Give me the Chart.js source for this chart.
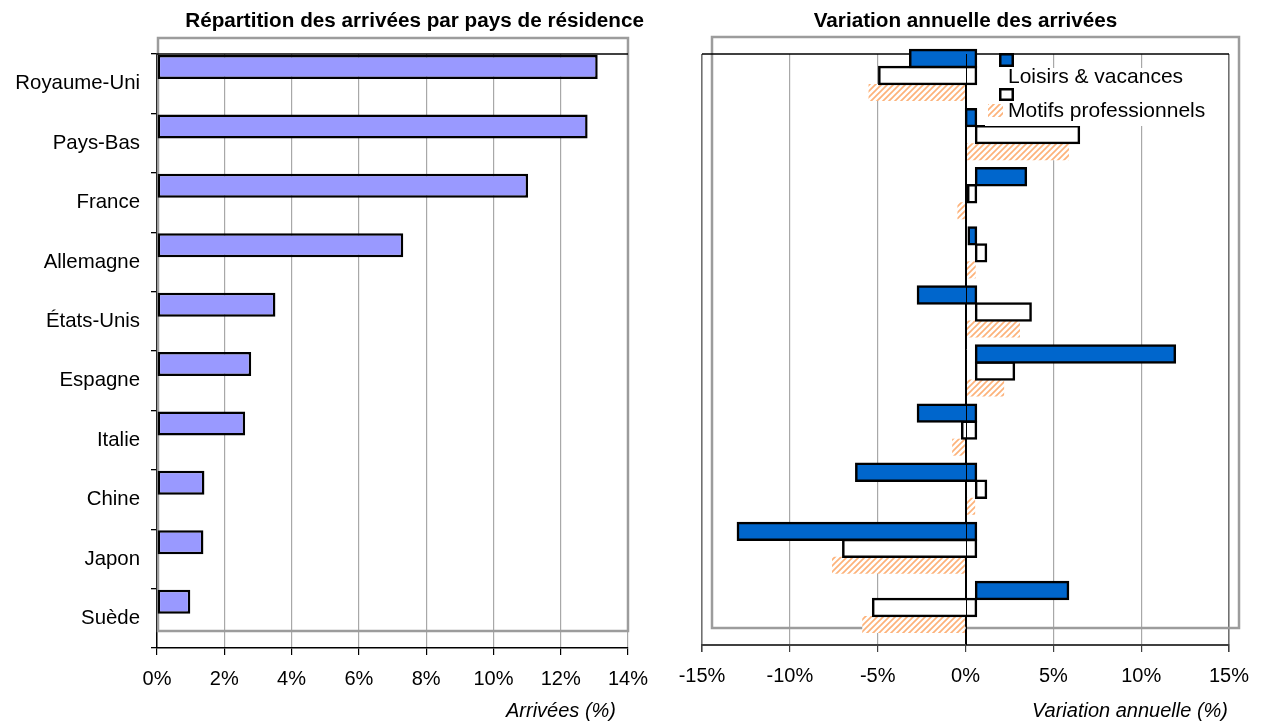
<!DOCTYPE html>
<html lang="fr">
<head>
<meta charset="utf-8">
<title>Arrivées par pays de résidence</title>
<script src="https://cdn.jsdelivr.net/npm/chart.js@4"></script>
<style>
  html, body { margin: 0; padding: 0; background: #fff; }
  #page { position: relative; width: 1262px; height: 724px; overflow: hidden;
          font-family: 'Liberation Sans', Arial, sans-serif; color: #000; }
  .panel { position: absolute; top: 0; height: 724px; }
  #left { left: 0; width: 660px; }
  #right { left: 660px; width: 602px; }
  .ttl { position: absolute; top: 8px; font-weight: bold; font-size: 20.7px; line-height: 24px; white-space: nowrap; }
  .axt { position: absolute; top: 698px; font-style: italic; font-size: 20px; line-height: 24px;
         white-space: nowrap; text-align: right; }
</style>
</head>
<body>
<div id="page">
  <div class="panel" id="left"><canvas id="shareChart"></canvas></div>
  <div class="panel" id="right"><canvas id="changeChart"></canvas></div>
  <div class="ttl" style="left:0;width:644px;text-align:right">Répartition des arrivées par pays de résidence</div>
  <div class="ttl" style="left:702px;width:527px;text-align:center">Variation annuelle des arrivées</div>
  <div class="axt" style="left:0;width:616px">Arrivées (%)</div>
  <div class="axt" style="left:660px;width:568px">Variation annuelle (%)</div>
</div>
<script>
// pays de résidence, du premier au dernier
const countries = ['Royaume-Uni', 'Pays-Bas', 'France', 'Allemagne', 'États-Unis',
                   'Espagne', 'Italie', 'Chine', 'Japon', 'Suède'];

// part des arrivées (%)
const shareValues = [13.1, 12.8, 11.03, 7.32, 3.52, 2.8, 2.62, 1.41, 1.38, 0.99];

// variation annuelle (%)
const totalChange = [-3.75, -0.57, 2.84, -0.42, -3.31, 11.32, -3.31, -6.82, -13.56, 5.24];
const leisureChange = [-5.51, 5.86, -0.45, 0.57, 3.11, 2.16, -0.79, 0.57, -7.56, -5.86];
const businessChange = [-5.52, 5.89, -0.46, 0.58, 3.1, 2.2, -0.76, 0.55, -7.6, -5.88];

const seriesLabels = ['Ensemble', 'Loisirs & vacances', 'Motifs professionnels'];

const shareTicks = [0, 2, 4, 6, 8, 10, 12, 14];
const changeTicks = [-15, -10, -5, 0, 5, 10, 15];

Chart.defaults.font.family = "'Liberation Sans', Arial, sans-serif";
Chart.defaults.font.size = 20;
Chart.defaults.color = '#000';

const pct = (v) => v + '%';
const asPoints = (vals) => vals.map((v, i) => ({ x: v, y: i }));

function stripes() {
  const c = document.createElement('canvas');
  c.width = c.height = 6;
  const g = c.getContext('2d');
  g.fillStyle = '#fff';
  g.fillRect(0, 0, 6, 6);
  g.strokeStyle = '#fdb27a';
  g.lineWidth = 1.7;
  g.beginPath();
  g.moveTo(0, 6); g.lineTo(6, 0);
  g.moveTo(-1, 1); g.lineTo(1, -1);
  g.moveTo(5, 7); g.lineTo(7, 5);
  g.stroke();
  return g.createPattern(c, 'repeat');
}
const hatch = stripes();

// cadre gris décalé + ligne noire en haut de la zone de tracé
const panelFrame = {
  id: 'panelFrame',
  beforeDatasetsDraw(chart, args, opts) {
    const { ctx, chartArea: a } = chart;
    ctx.save();
    ctx.strokeStyle = '#9c9c9c';
    ctx.lineWidth = 2.5;
    ctx.strokeRect(a.left + opts.dx, a.top + opts.dy, a.width + opts.dw, a.height + opts.dh);
    ctx.strokeStyle = '#000';
    ctx.lineWidth = 1.3;
    ctx.beginPath();
    ctx.moveTo(a.left, a.top);
    ctx.lineTo(a.right, a.top);
    ctx.stroke();
    ctx.restore();
  },
  afterDatasetsDraw(chart, args, opts) {
    if (!opts.zeroLine) return;
    const { ctx, chartArea: a } = chart;
    const x0 = Math.round(chart.scales.x.getPixelForValue(0)) + 0.5;
    ctx.save();
    ctx.strokeStyle = '#000';
    ctx.lineWidth = 1;
    ctx.beginPath();
    ctx.moveTo(x0, a.top);
    ctx.lineTo(x0, a.bottom);
    ctx.stroke();
    ctx.restore();
  }
};

// légende dessinée à la main, comme dans l'original
const oddLegend = {
  id: 'oddLegend',
  afterDatasetsDraw(chart) {
    const { ctx, chartArea: a } = chart;
    const ds = chart.data.datasets;
    const L = a.left, T = a.top;
    ctx.save();
    ctx.fillStyle = '#fff';
    ctx.fillRect(L + 283, T + 14, 243, 58);
    const box = (d, x, y, w, h) => {
      ctx.fillStyle = d.backgroundColor;
      ctx.fillRect(L + x, T + y, w, h);
      if (d.borderWidth) {
        ctx.strokeStyle = '#000';
        ctx.lineWidth = 2.5;
        ctx.strokeRect(L + x + 1.25, T + y + 1.25, w - 2.5, h - 2.5);
      }
    };
    box(ds[0], 297, -1, 15, 14);
    box(ds[1], 297, 34, 15, 13);
    box(ds[2], 286, 50, 15, 13);
    ctx.fillStyle = '#000';
    ctx.font = "21px 'Liberation Sans', Arial, sans-serif";
    ctx.textBaseline = 'middle';
    ctx.fillText(ds[1].label, L + 306, T + 23);
    ctx.fillText(ds[2].label, L + 306, T + 57);
    ctx.restore();
  }
};

new Chart(document.getElementById('shareChart'), {
  type: 'bar',
  data: {
    labels: countries,
    datasets: [{
      label: 'Arrivées (%)',
      data: asPoints(shareValues),
      xAxisID: 'x',
      yAxisID: 'yd',
      backgroundColor: '#9999ff',
      borderColor: '#000',
      borderWidth: 2.5,
      borderSkipped: false,
      categoryPercentage: 0.404,
      barPercentage: 1,
      clip: false
    }]
  },
  options: {
    indexAxis: 'y',
    responsive: true,
    maintainAspectRatio: false,
    animation: false,
    layout: { padding: { top: 54, right: 32, left: 0, bottom: 0 } },
    plugins: {
      legend: { display: false },
      tooltip: { enabled: false },
      panelFrame: { dx: 1, dy: -16, dw: -1, dh: -1 }
    },
    scales: {
      x: {
        type: 'linear',
        min: shareTicks[0],
        max: shareTicks[shareTicks.length - 1],
        ticks: { stepSize: shareTicks[1] - shareTicks[0], callback: pct, padding: 12, color: '#000' },
        grid: {
          color: (c) => (c.tick && c.tick.value === 0 ? 'rgba(0,0,0,0)' : '#a8a8a8'),
          lineWidth: 1.2,
          tickColor: '#000',
          tickLength: 7
        },
        border: { color: '#000', width: 1.5 },
        afterFit: (s) => { s.height = 76; }
      },
      y: {
        type: 'category',
        position: 'left',
        offset: true,
        grid: { offset: true, drawOnChartArea: false, color: '#000', tickLength: 6, lineWidth: 1.3 },
        border: { color: '#000', width: 1.5 },
        ticks: { padding: 11, color: '#000', font: { size: 20.4 } },
        afterFit: (s) => { s.width = 157; }
      },
      yd: { type: 'linear', display: false, reverse: true, offset: false, min: -0.5 + 0.28, max: 9.5 + 0.28 }
    }
  },
  plugins: [panelFrame]
});

const barStyle = {
  yAxisID: 'yd',
  categoryPercentage: 0.863,
  barPercentage: 1,
  clip: false
};
const outlined = { borderColor: '#000', borderWidth: 2.5, borderSkipped: false, inflateAmount: 1.2 };

new Chart(document.getElementById('changeChart'), {
  type: 'bar',
  data: {
    labels: countries,
    datasets: [
      Object.assign({ label: seriesLabels[0], data: asPoints(totalChange), xAxisID: 'xo',
                      backgroundColor: '#0066cc' }, barStyle, outlined),
      Object.assign({ label: seriesLabels[1], data: asPoints(leisureChange), xAxisID: 'xo',
                      backgroundColor: '#ffffff' }, barStyle, outlined),
      Object.assign({ label: seriesLabels[2], data: asPoints(businessChange), xAxisID: 'x',
                      backgroundColor: hatch, borderWidth: 0 }, barStyle)
    ]
  },
  options: {
    indexAxis: 'y',
    responsive: true,
    maintainAspectRatio: false,
    animation: false,
    layout: { padding: { top: 54, right: 33, left: 42, bottom: 0 } },
    plugins: {
      legend: { display: false },
      tooltip: { enabled: false },
      panelFrame: { dx: 10, dy: -17, dw: 0, dh: 0, zeroLine: true }
    },
    scales: {
      x: {
        type: 'linear',
        min: changeTicks[0],
        max: changeTicks[changeTicks.length - 1],
        ticks: { stepSize: changeTicks[1] - changeTicks[0], callback: pct, padding: 12, color: '#000' },
        grid: {
          color: (c) => {
            const v = c.tick ? c.tick.value : null;
            if (v === 0) return '#000';
            if (v === changeTicks[0] || v === changeTicks[changeTicks.length - 1]) return '#707070';
            return '#a8a8a8';
          },
          lineWidth: (c) => (c.tick && Math.abs(c.tick.value) === 15 ? 1.6 : 1.2),
          tickColor: '#404040',
          tickLength: 7
        },
        border: { color: '#404040', width: 2 },
        afterFit: (s) => { s.height = 79; }
      },
      // axe caché : les barres pleines et blanches partent d'un point décalé
      xo: { type: 'linear', display: false, min: changeTicks[0] - 0.6, max: changeTicks[changeTicks.length - 1] - 0.6 },
      yd: { type: 'linear', display: false, reverse: true, offset: false, min: -0.5 + 0.135, max: 9.5 + 0.135 }
    }
  },
  plugins: [panelFrame, oddLegend]
});
</script>
</body>
</html>
